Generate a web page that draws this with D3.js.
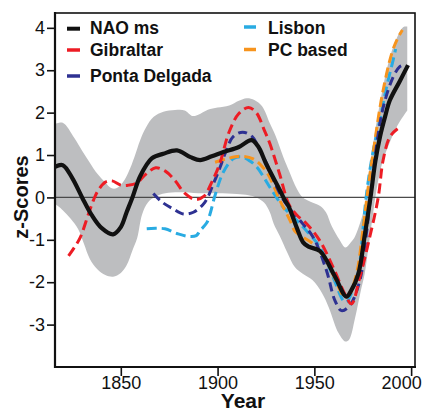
<!DOCTYPE html>
<html>
<head>
<meta charset="utf-8">
<script src="https://cdn.jsdelivr.net/npm/d3@7"></script>
<style>
  html, body { margin: 0; padding: 0; background: #fff; }
  svg { display: block; }
  text { font-family: "Liberation Sans", Arial, Helvetica, sans-serif; fill: #111; }
</style>
</head>
<body>
<svg id="chart" width="424" height="412"></svg>
<script>
// ---------- data ----------
const bandUpperYears = [1816,1820,1826,1830,1834,1838,1842,1845,1848,1851,1854,1857,1860,1863,1867,1872,1878,1883,1887,1890,1895,1900,1906,1911,1915,1919,1923,1927,1930,1934,1937,1941,1944,1948,1953,1956,1959,1963,1966,1969,1971,1974,1976,1978,1980,1984,1989,1993,1996,1998];
const bandUpper      = [1.73,1.76,1.40,1.10,0.82,0.55,0.35,0.22,0.22,0.35,0.60,0.95,1.35,1.65,1.90,2.02,2.06,2.05,1.92,1.95,2.07,2.12,2.17,2.28,2.34,2.30,2.15,1.75,1.45,0.95,0.62,0.20,0.00,-0.10,-0.20,-0.35,-0.68,-1.00,-1.18,-1.05,-0.92,-0.55,-0.20,0.55,1.15,2.25,3.30,3.80,4.02,4.03];
const bandLowerYears = [1816,1820,1824,1828,1831,1834,1838,1842,1846,1850,1853,1856,1858.5,1861,1864,1868,1873,1880,1890,1900,1910,1916,1920,1924,1927,1929,1932,1936,1940,1944,1949,1954,1957.5,1962.5,1966,1968,1971,1974,1976,1978,1980,1982,1985,1989,1993,1998];
const bandLower      = [-0.15,-0.30,-0.50,-0.75,-1.10,-1.45,-1.70,-1.83,-1.87,-1.78,-1.60,-1.25,-0.95,-0.40,-0.12,0.02,0.10,0.12,0.10,0.10,0.08,0.05,0.00,-0.12,-0.35,-0.62,-0.90,-1.30,-1.65,-1.80,-1.95,-2.26,-2.60,-3.20,-3.40,-3.35,-2.85,-2.20,-1.80,-1.15,-0.50,0.15,0.80,1.30,1.70,2.05];

const naoYears = [1816,1820,1825,1830,1835,1840,1846,1850,1853,1856,1860,1866,1872,1879,1886,1891,1897,1903,1911,1917.5,1921,1925,1932.2,1934.8,1936.7,1940.8,1944.2,1947,1953,1960.7,1966.5,1969,1972.8,1976,1979,1981.5,1984,1986.5,1989,1994,1998.4];
const naoValues = [0.72,0.76,0.45,0.00,-0.42,-0.72,-0.87,-0.70,-0.35,0.00,0.50,0.92,1.03,1.11,0.95,0.88,0.97,1.07,1.19,1.35,1.20,0.80,0.17,-0.07,-0.21,-0.70,-1.06,-1.16,-1.27,-1.87,-2.34,-2.20,-1.79,-0.90,0.00,0.85,1.45,1.90,2.29,2.73,3.12];

const gibYears = [1823,1826,1829,1833.3,1836,1838.4,1842,1845.5,1850,1854,1858,1863,1868,1873,1878,1883,1888.5,1893,1897,1901,1906,1911,1916,1920,1924,1927,1932,1937,1941,1946,1952.8,1959.7,1966,1969.2,1973.5,1978.6,1983,1985.5,1989,1993];
const gibValues = [-1.38,-1.18,-0.95,-0.39,-0.05,0.17,0.36,0.39,0.29,0.29,0.33,0.55,0.70,0.62,0.40,0.10,-0.05,0.03,0.36,0.78,1.55,1.98,2.12,2.00,1.60,1.27,0.56,-0.18,-0.42,-0.62,-1.02,-1.65,-2.30,-2.51,-1.88,-0.94,0.00,0.87,1.43,1.62];

const pdYears = [1866.8,1871,1877,1882.3,1887.5,1893.5,1897.8,1901.2,1904,1908,1913,1918,1921.5,1925.3,1932.2,1937,1942.5,1949.4,1956.3,1960.6,1964,1968.3,1973.5,1976.5,1979.5,1983,1986,1990.7,1994,1996];
const pdValues = [0.09,-0.10,-0.27,-0.39,-0.35,-0.11,0.32,0.70,1.05,1.43,1.54,1.43,1.15,0.80,0.09,-0.25,-0.54,-0.94,-1.73,-2.43,-2.67,-2.55,-1.96,-1.00,0.20,1.50,2.20,2.84,3.08,3.12];

const lisYears = [1863.4,1868,1872.8,1879,1885,1889,1891,1894.4,1896.1,1898.7,1903,1908,1912,1916,1920.2,1927,1933.9,1935.7,1944.2,1952.8,1959.7,1964.9,1966.6,1970.9,1973,1975,1977,1980,1984,1987.3,1990.7,1992];
const lisValues = [-0.74,-0.73,-0.74,-0.85,-0.92,-0.90,-0.78,-0.60,-0.39,0.05,0.60,0.91,0.96,0.88,0.72,0.24,-0.23,-0.31,-0.70,-1.17,-1.88,-2.43,-2.47,-2.04,-1.70,-0.80,0.10,1.00,1.85,2.60,3.24,3.50];

const pcYears = [1898.7,1904.7,1911.6,1918.4,1925.3,1932.2,1937.4,1940,1944.2,1949.4,1955,1960,1965.8,1968,1972,1975,1978,1981,1985,1990,1993,1995.5];
const pcValues = [0.83,0.91,0.97,0.91,0.60,-0.07,-0.54,-0.80,-0.94,-1.10,-1.40,-1.85,-2.36,-2.30,-1.75,-0.80,0.30,1.25,2.40,3.40,3.75,3.95];

const xTicks = [1850, 1900, 1950, 2000];
const yTicks = [-3, -2, -1, 0, 1, 2, 3, 4];

const legendLeft = ["NAO ms", "Gibraltar", "Ponta Delgada"];
const legendRight = ["Lisbon", "PC based"];

// ---------- layout ----------
const svg = d3.select("#chart");
const x = d3.scaleLinear().domain([1816, 2002]).range([55, 415]);
const y = d3.scaleLinear().domain([-4, 4.35]).range([367, 13]);

const curve = d3.curveCatmullRom.alpha(0.5);
const line = d3.line().x(d => x(d[0])).y(d => y(d[1])).curve(curve);
const zip = (a, b) => a.map((v, i) => [v, b[i]]);

// band
const up = zip(bandUpperYears, bandUpper);
const lo = zip(bandLowerYears, bandLower).reverse();
const bandPath = line(up) + line(lo).replace(/^M/, "L") + "Z";
svg.append("path").attr("d", bandPath).attr("fill", "#bdbec0").attr("stroke", "none");

// zero line
svg.append("line")
  .attr("x1", x(1816)).attr("x2", x(2002))
  .attr("y1", y(0)).attr("y2", y(0))
  .attr("stroke", "#4a4a4a").attr("stroke-width", 1.4);

const series = [
  { name: "Lisbon", yrs: lisYears, vals: lisValues, color: "#29abe2", dash: "10,5", w: 3 },
  { name: "PC based", yrs: pcYears, vals: pcValues, color: "#f7941d", dash: "10,5", w: 3 },
  { name: "Ponta Delgada", yrs: pdYears, vals: pdValues, color: "#2e3192", dash: "9,5", w: 3 },
  { name: "Gibraltar", yrs: gibYears, vals: gibValues, color: "#ed1c24", dash: "10,5", w: 3 },
  { name: "NAO ms", yrs: naoYears, vals: naoValues, color: "#111111", dash: null, w: 4.2 }
];

series.forEach(s => {
  svg.append("path")
    .attr("d", line(zip(s.yrs, s.vals)))
    .attr("fill", "none")
    .attr("stroke", s.color)
    .attr("stroke-width", s.w)
    .attr("stroke-dasharray", s.dash)
    .attr("stroke-linejoin", "round");
});

// frame
svg.append("rect").attr("x", 55).attr("y", 13).attr("width", 360).attr("height", 354)
  .attr("fill", "none").attr("stroke", "#111").attr("stroke-width", 1.6);
svg.append("line").attr("x1", 55).attr("x2", 55).attr("y1", 12).attr("y2", 368).attr("stroke", "#111").attr("stroke-width", 2.2);
svg.append("line").attr("x1", 54).attr("x2", 416).attr("y1", 367).attr("y2", 367).attr("stroke", "#111").attr("stroke-width", 2.2);

// axes
const yAxis = d3.axisLeft(y).tickValues(yTicks).tickSize(8).tickPadding(2).tickFormat(d => String(d));
const gy = svg.append("g").attr("transform", "translate(55,0)").call(yAxis);
gy.select(".domain").remove();
gy.selectAll(".tick line").attr("stroke", "#111").attr("stroke-width", 1.6);
gy.selectAll(".tick text").attr("font-size", 18).attr("fill", "#111")
  .style("font-family", "'Liberation Sans', Arial, sans-serif");

const xAxis = d3.axisBottom(x).tickValues(xTicks).tickSize(9).tickPadding(0).tickFormat(d => String(d));
const gx = svg.append("g").attr("transform", "translate(0,367)").call(xAxis);
gx.select(".domain").remove();
gx.selectAll(".tick line").attr("stroke", "#111").attr("stroke-width", 1.6);
gx.selectAll(".tick text").attr("font-size", 18).attr("fill", "#111")
  .style("font-family", "'Liberation Sans', Arial, sans-serif")
  .attr("x", d => d === 2000 ? -10 : 0);

// axis titles
svg.append("text").attr("x", 243).attr("y", 407.5).attr("text-anchor", "middle")
  .attr("font-size", 21).attr("font-weight", "bold").text("Year");
svg.append("text").attr("transform", "translate(28,197) rotate(-90)").attr("text-anchor", "middle")
  .attr("font-size", 20).attr("font-weight", "bold").text("z-Scores");

// legend
const legLeft = [
  { label: legendLeft[0], color: "#111111", ly: 28.7, ty: 33.5, w: 4 },
  { label: legendLeft[1], color: "#ed1c24", ly: 50, ty: 56, w: 3.5 },
  { label: legendLeft[2], color: "#2e3192", ly: 76, ty: 82, w: 3.5 }
];
const legRight = [
  { label: legendRight[0], color: "#29abe2", ly: 27, ty: 33.5, w: 3.5 },
  { label: legendRight[1], color: "#f7941d", ly: 49.5, ty: 56, w: 3.5 }
];
legLeft.forEach(d => {
  svg.append("line").attr("x1", 67).attr("x2", 80).attr("y1", d.ly).attr("y2", d.ly)
    .attr("stroke", d.color).attr("stroke-width", d.w);
  svg.append("text").attr("x", 90).attr("y", d.ty).attr("font-size", 17.5)
    .attr("font-weight", "bold").text(d.label);
});
legRight.forEach(d => {
  svg.append("line").attr("x1", 244).attr("x2", 256).attr("y1", d.ly).attr("y2", d.ly)
    .attr("stroke", d.color).attr("stroke-width", d.w);
  svg.append("text").attr("x", 268).attr("y", d.ty).attr("font-size", 17.5)
    .attr("font-weight", "bold").text(d.label);
});
</script>
</body>
</html>
